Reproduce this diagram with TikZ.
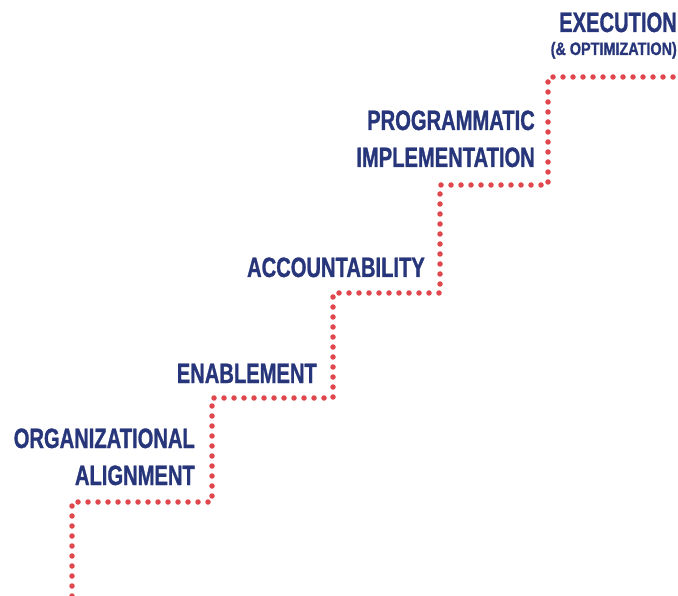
\documentclass[tikz,border=0pt]{standalone}
\usepackage{fontspec}
\newfontfamily\stepfont[FakeStretch=0.72,FakeBold=1]{Liberation Sans}
\newfontfamily\notefont[FakeStretch=0.8,FakeBold=1]{Liberation Sans}
\definecolor{navy}{HTML}{27357A}
\definecolor{dotred}{HTML}{E0474C}
\tikzset{
  steplabel/.style={inner sep=0pt, anchor=base east, align=right, text=navy,
    font=\stepfont\bfseries\fontsize{28}{37}\selectfont},
  stair/.style={dotred, line width=5.5pt, line cap=round, dash pattern=on 0pt off 10pt}
}
\begin{document}
\begin{tikzpicture}[x=1pt, y=-1pt]
    \useasboundingbox (0,0) rectangle (678,596);
    % corners of the stairs
    \coordinate (s0) at (72,596);
    \coordinate (s1) at (212,502);
    \coordinate (s2) at (333,398);
    \coordinate (s3) at (440,293);
    \coordinate (s4) at (548,185);
    \coordinate (s5) at (678,77);
    \draw[stair] (s0) |- (s1) |- (s2) |- (s3) |- (s4) |- (s5);
    % labels
    \node[steplabel] (align) at (195,485) {ORGANIZATIONAL\\ALIGNMENT};
    \node[steplabel] (enable) at (317,383) {ENABLEMENT};
    \node[steplabel] (account) at (425,277) {ACCOUNTABILITY};
    \node[steplabel] (implement) at (535,167) {PROGRAMMATIC\\IMPLEMENTATION};
    \node[steplabel] (execute) at (677,32) {EXECUTION};
    \node[steplabel, font=\notefont\bfseries\fontsize{18}{20}\selectfont] (optimize) at (677,55) {(\& OPTIMIZATION)};
\end{tikzpicture}
\end{document}
